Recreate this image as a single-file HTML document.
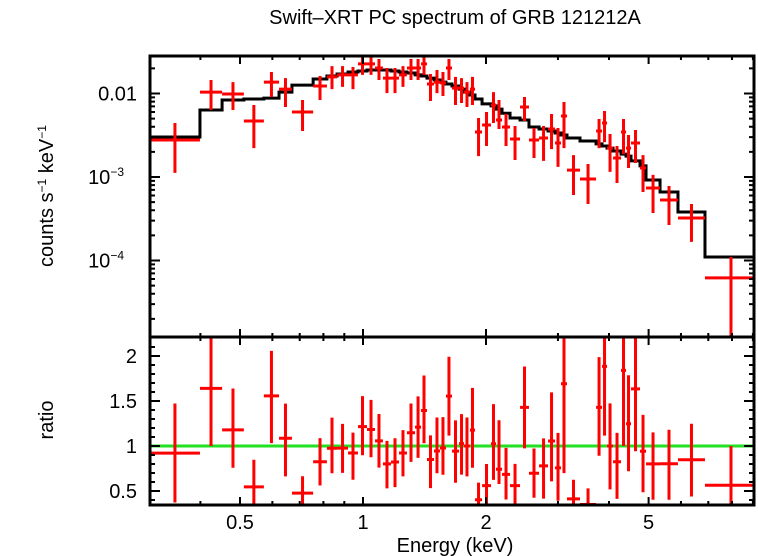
<!DOCTYPE html>
<html><head><meta charset="utf-8"><style>
html,body{margin:0;padding:0;background:#fff;}
svg{display:block;font-family:"Liberation Sans",sans-serif;}
</style></head><body>
<svg id="chart" width="758" height="556" viewBox="0 0 758 556">
<text x="455" y="24" font-size="20" text-anchor="middle">Swift–XRT PC spectrum of GRB 121212A</text>
<text transform="translate(53,196) rotate(-90)" font-size="20" text-anchor="middle">counts s<tspan dy="-7" font-size="12">−1</tspan><tspan dy="7"> keV</tspan><tspan dy="-7" font-size="12">−1</tspan></text>
<text transform="translate(53,420) rotate(-90)" font-size="20" text-anchor="middle">ratio</text>
<text x="455" y="552" font-size="20" text-anchor="middle">Energy (keV)</text>
<g id="g"></g>
</svg>
<script>
// data bins (keV edges)
const edges=[0.301,0.399,0.452,0.511,0.572,0.623,0.670,0.755,0.816,0.864,0.919,0.972,1.023,1.070,1.119,1.171,1.225,1.281,1.341,1.387,1.434,1.492,1.543,1.596,1.651,1.718,1.767,1.827,1.880,1.956,2.057,2.116,2.189,2.290,2.423,2.548,2.697,2.837,2.951,3.052,3.157,3.397,3.719,3.846,3.956,4.092,4.280,4.403,4.528,4.764,4.928,5.333,5.90,6.87,9.21];
// rates in units of 0.01 counts/s/keV
const rate=[.277,1.04,.986,.469,1.37,1.13,.600,1.23,1.58,1.67,1.67,2.26,2.26,2.02,1.53,1.53,1.67,2.02,2.02,2.26,1.30,1.37,1.34,2.02,1.16,1.16,1.04,1.13,.346,.420,.728,.482,.397,.285,.689,.277,.293,.376,.255,.538,.121,.0946,.356,.443,.222,.169,.346,.222,.255,.128,.0738,.0531,.0323,.0062];
const rateHi=[.443,1.45,1.37,.728,1.81,1.53,.836,1.62,2.13,2.13,2.08,2.89,2.89,2.59,2.02,2.02,2.13,2.59,2.59,2.89,1.71,1.91,1.81,2.59,1.58,1.53,1.37,1.58,.509,.600,1.04,.836,.568,.408,.908,.386,.408,.568,.386,.791,.183,.143,.495,.617,.327,.235,.495,.318,.366,.183,.106,.0780,.0475,.0110];
const rateLo=[.112,.634,.634,.222,.908,.689,.356,.836,1.13,1.20,1.13,1.67,1.67,1.45,1.01,1.01,1.20,1.45,1.45,1.67,.813,1.01,.933,1.45,.728,.770,.689,.728,.178,.235,.443,.376,.235,.160,.469,.169,.156,.216,.132,.222,.0609,.0475,.222,.262,.115,.0847,.188,.128,.147,.0661,.0371,.0266,.0167,.0001];
const model=[.301,.634,.836,.859,.88,1.04,1.26,1.49,1.62,1.71,1.81,1.86,1.91,1.91,1.91,1.86,1.81,1.76,1.67,1.62,1.53,1.45,1.37,1.30,1.23,1.13,1.04,.96,.859,.75,.71,.65,.58,.509,.482,.397,.376,.356,.337,.318,.293,.270,.249,.235,.222,.205,.188,.178,.156,.136,.0921,.0661,.0381,.0110];
const xTicks=[0.5,1,2,5];
const xTickLabels=["0.5","1","2","5"];
const xMinor=[0.4,0.6,0.7,0.8,0.9,3,4,6,7,8,9];
const yTicks=[0.01,0.001,0.0001];
const yTickLabels=[["0.01",""],["10","−3"],["10","−4"]];
const rTicks=[0.5,1,1.5,2];
const rTickLabels=["0.5","1","1.5","2"];

const L=150,R=754,T=56,M=337,B=505;
const x=e=>363+408.6*Math.log10(e);
const y=v=>93.5-83.5*(Math.log10(v)+2);
const yr=r=>446-90*(r-1);
const g=document.getElementById('g');
const NS='http://www.w3.org/2000/svg';
function el(tag,at){const e=document.createElementNS(NS,tag);for(const k in at)e.setAttribute(k,at[k]);g.appendChild(e);return e;}
const cl=(v,a,b)=>Math.max(a,Math.min(b,v));

let d='';
for(let i=0;i<model.length;i++){const v=model[i]*0.01;const yy=y(v);const x0=x(edges[i]),x1=Math.min(R,x(edges[i+1]));d+=(i?'L':'M')+x0+','+yy+'L'+x1+','+yy;}
const mp=el('path',{d:d,fill:'none',stroke:'#000','stroke-width':3});



const gl=el('line',{x1:L,x2:R,y1:yr(1),y2:yr(1),stroke:'#22e022','stroke-width':3});



for(let i=0;i<rate.length;i++){
  const xa=x(edges[i]),xb=Math.min(R,x(edges[i+1])),xc=(x(edges[i])+x(edges[i+1]))/2;
  const yc=y(rate[i]*0.01),yh=y(rateHi[i]*0.01),yl=Math.min(M,y(rateLo[i]*0.01));
  const p=el('path',{d:`M${xa},${yc}H${xb}M${xc},${cl(yh,T,M)}V${cl(yl,T,M)}`,stroke:'#f00','stroke-width':3,fill:'none'});
  
  
  const r=rate[i]/model[i],rh=rateHi[i]/model[i],rl=rateLo[i]/model[i];
  const yrc=yr(r);
  let dd=`M${xc},${cl(yr(rh),M,B)}V${cl(yr(rl),M,B)}`;
  if(yrc>=M&&yrc<=B)dd+=`M${xa},${yrc}H${xb}`;
  const q=el('path',{d:dd,stroke:'#f00','stroke-width':3,fill:'none'});
  
  
}

const f1=el('rect',{x:L,y:T,width:R-L,height:M-T,fill:'none',stroke:'#000','stroke-width':3});


const f2=el('rect',{x:L,y:M,width:R-L,height:B-M,fill:'none',stroke:'#000','stroke-width':3});



let td='';
xTicks.forEach(v=>{const xx=x(v);[[T,1],[M,-1],[M,1],[B,-1]].forEach(([yy,s])=>{td+=`M${xx},${yy}v${s*8}`;});});
xMinor.forEach(v=>{const xx=x(v);[[T,1],[M,-1],[M,1],[B,-1]].forEach(([yy,s])=>{td+=`M${xx},${yy}v${s*4}`;});});
for(let p=-5;p<=-2;p++)for(let k=1;k<10;k++){const v=k*Math.pow(10,p);const yy=y(v);if(yy<T||yy>M)continue;const len=k==1?10:5;td+=`M${L},${yy}h${len}M${R},${yy}h${-len}`;}
for(let r=0.4;r<=2.2;r+=0.1){const yy=yr(r);if(yy<M||yy>B)continue;const maj=Math.abs(r*2-Math.round(r*2))<1e-6;const len=maj?10:5;td+=`M${L},${yy}h${len}M${R},${yy}h${-len}`;}
const tk=el('path',{d:td,stroke:'#000','stroke-width':2,fill:'none'});



xTicks.forEach((v,i)=>{const t=el('text',{x:x(v),y:529,'font-size':20,'text-anchor':'middle'});t.textContent=xTickLabels[i];

});
yTicks.forEach((v,i)=>{const t=el('text',{x:137,y:y(v)+7,'font-size':20,'text-anchor':'end'});


const lab=yTickLabels[i];
if(lab[1]){t.setAttribute('x',124);t.innerHTML=lab[0]+'<tspan dy="-8" font-size="12">'+lab[1]+'</tspan>';}else t.textContent=lab[0];});
rTicks.forEach((v,i)=>{const t=el('text',{x:137,y:yr(v)+7,'font-size':20,'text-anchor':'end'});t.textContent=rTickLabels[i];

});
</script>
</body></html>
